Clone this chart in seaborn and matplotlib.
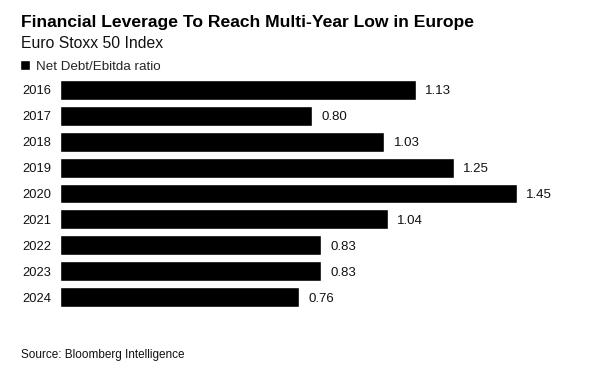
import matplotlib
matplotlib.use("Agg")
import matplotlib.pyplot as plt
import seaborn as sns

years = ['2016', '2017', '2018', '2019', '2020', '2021', '2022', '2023', '2024']
ratio = [1.13, 0.80, 1.03, 1.25, 1.45, 1.04, 0.83, 0.83, 0.76]
labels = ['1.13', '0.80', '1.03', '1.25', '1.45', '1.04', '0.83', '0.83', '0.76']

sns.set_theme(style="white")
plt.rcParams['font.family'] = ['Liberation Sans', 'DejaVu Sans']

W, H = 589, 372
fig = plt.figure(figsize=(W / 100, H / 100), dpi=100)
ax = fig.add_axes([60 / W, 1 - 310 / H, 504 / W, 233 / H])

sns.barplot(x=ratio, y=years, orient='h', color='black', width=0.77,
            saturation=1, ax=ax, label='Net Debt/Ebitda ratio')
ax.set_xlim(0, 1.6)
ax.set_ylim(8.5, -0.5)

for i, (v, t) in enumerate(zip(ratio, labels)):
    ax.annotate(t, (v, i), xytext=(6.5, 0), textcoords='offset points',
                va='center_baseline', ha='left', fontsize=9.5, color='#111111')

for s in ax.spines.values():
    s.set_visible(False)
ax.set_xticks([])
ax.set_xlabel('')
ax.set_ylabel('')
ax.tick_params(axis='y', length=0, pad=6, labelsize=9.3, labelcolor='#111111')

fig.text(21 / W, 1 - 27 / H, 'Financial Leverage To Reach Multi-Year Low in Europe',
         fontsize=12.6, fontweight='bold', color='black', ha='left', va='baseline')
fig.text(21 / W, 1 - 48 / H, 'Euro Stoxx 50 Index',
         fontsize=11.3, color='#111111', ha='left', va='baseline')

ax.legend(loc='upper left', bbox_to_anchor=(20 / W, 1 - 60 / H),
          bbox_transform=fig.transFigure, frameon=False, fontsize=9.6,
          handlelength=0.75, handleheight=0.75, handletextpad=0.45,
          borderaxespad=0, borderpad=0)

fig.text(21 / W, 1 - 358 / H, 'Source: Bloomberg Intelligence',
         fontsize=8.5, color='#111111', ha='left', va='baseline')

fig.savefig('out.png', dpi=100, facecolor='white')
